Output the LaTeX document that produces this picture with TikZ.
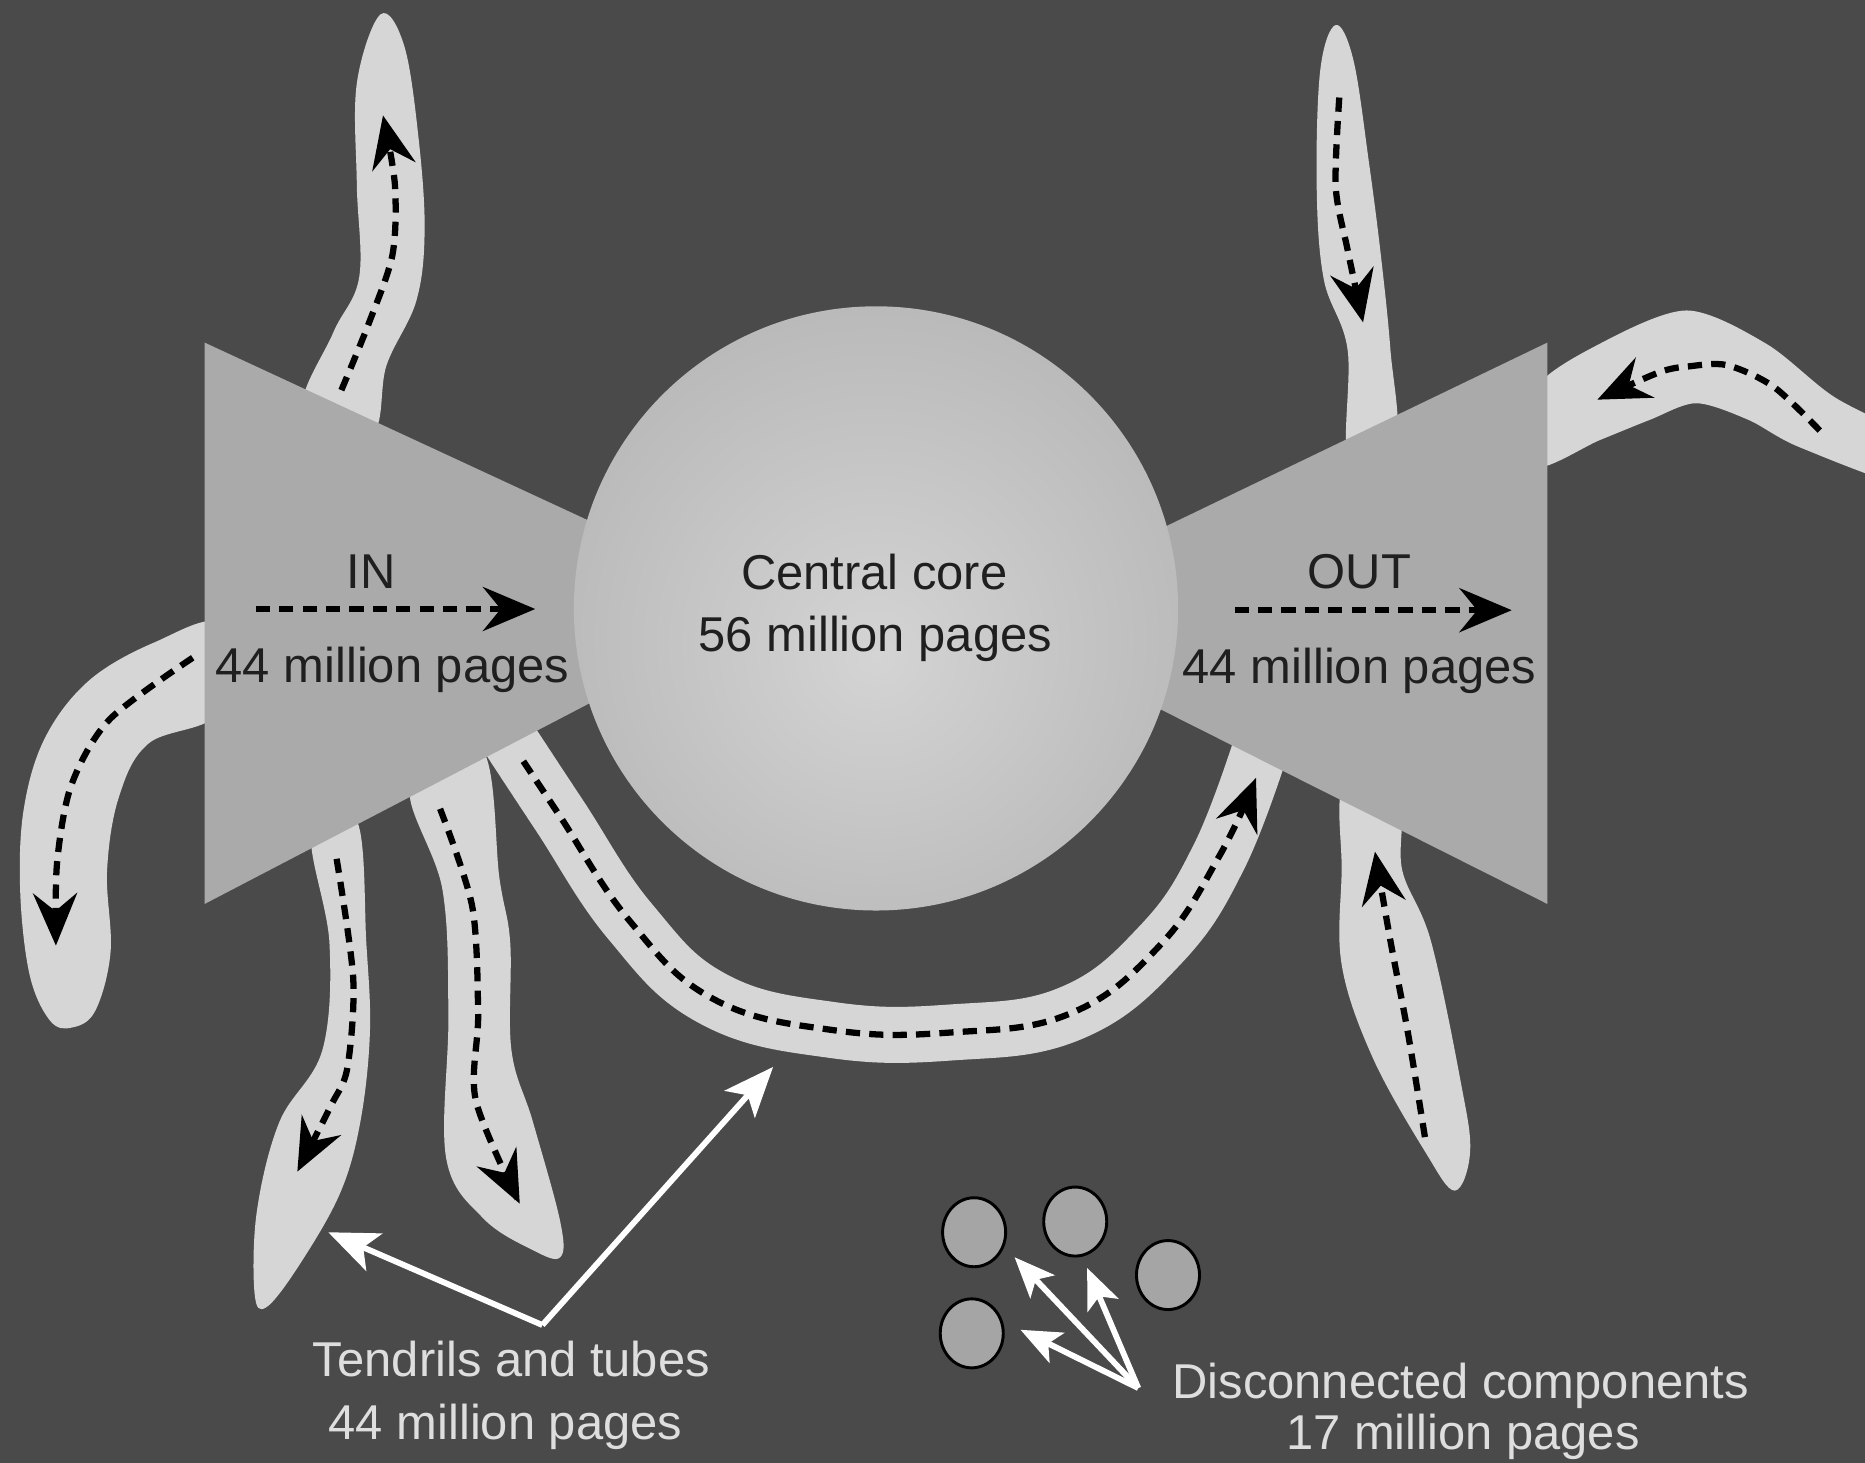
\documentclass[tikz,border=0pt]{standalone}
\usepackage{fontspec}
\setmainfont{Liberation Sans}
\usetikzlibrary{arrows.meta,shapes.geometric}
\definecolor{bgdark}{RGB}{74,74,74}
\definecolor{tendrilgray}{RGB}{214,214,214}
\definecolor{conegray}{RGB}{170,170,170}
\definecolor{corein}{RGB}{212,212,212}
\definecolor{coreout}{RGB}{160,160,160}
\definecolor{notegray}{RGB}{222,222,222}
\definecolor{dotgray}{RGB}{165,165,165}
\pgfdeclareradialshading{coreshade}{\pgfpoint{0bp}{-4bp}}{color(0bp)=(corein); color(54bp)=(coreout); color(60bp)=(coreout)}

\begin{document}
\begin{tikzpicture}[
  x=0.1mm, y=-0.1mm,
  every node/.style={font=\fontsize{11.7}{15}\selectfont, inner sep=0pt},
  tendril/.style={fill=tendrilgray},
  cone/.style={fill=conegray},
  flow/.style={black, line width=1.5pt, dash pattern=on 3.4pt off 2.2pt,
    -{Stealth[length=4.4mm,width=3.7mm,inset=1.5mm]}},
  pointer/.style={white, line width=1.4pt, -{Stealth[length=4.2mm,width=3.4mm,inset=1mm]}},
  smallpointer/.style={pointer, -{Stealth[length=3.4mm,width=2.8mm,inset=0.8mm]}},
  lbl/.style={text=black!88, anchor=base},
  note/.style={text=notegray, anchor=base},
  blob/.style={ellipse, draw=black, line width=0.7pt, fill=dotgray,
    minimum width=5.3mm, minimum height=5.8mm}
]
  \useasboundingbox (0,0) rectangle (1568,1230);
  \fill[bgdark] (0,0) rectangle (1568,1230);

  % tendrils and the tube
  \fill[tendril] plot[smooth cycle, tension=0.6] coordinates {(320,12) (340,39) (352,117) (357,194) (350,253) (325,307) (312,365) (255,345) (280,280) (302,233) (300,155) (300,70)};
  \fill[tendril] plot[smooth cycle, tension=0.6] coordinates {(185,525) (130,540) (75,572) (38,620) (20,680) (17,750) (25,820) (42,858) (60,864) (80,850) (93,800) (90,732) (100,670) (125,625) (185,598)};
  \fill[tendril] plot[smooth cycle, tension=0.6] coordinates {(262,700) (277,793) (271,883) (235,943) (216,1018) (214,1087) (224,1099) (252,1063) (286,1003) (303,943) (311,868) (308,793) (300,690)};
  \fill[tendril] plot[smooth cycle, tension=0.6] coordinates {(345,660) (372,748) (377,853) (375,973) (406,1024) (448,1051) (471,1057) (471,1027) (448,943) (430,883) (429,793) (420,739) (405,630)};
  \fill[tendril] plot[smooth cycle, tension=0.6] coordinates {(1123,21) (1138,51) (1151,137) (1161,215) (1169,294) (1173,372) (1134,388) (1133,294) (1113,235) (1107,157) (1110,59)};
  \fill[tendril] plot[smooth cycle, tension=0.5] coordinates {(1290,328) (1345,289) (1418,261) (1485,289) (1541,333) (1610,372) (1610,410) (1513,376) (1470,353) (1426,339) (1387,353) (1345,370) (1290,392)};
  \fill[tendril] plot[smooth cycle, tension=0.6] coordinates {(1130,660) (1128,732) (1128,811) (1154,889) (1198,968) (1223,1001) (1236,968) (1228,909) (1203,791) (1179,732) (1175,675)};
  \draw[tendrilgray, line width=13.4pt] plot[smooth, tension=0.7] coordinates {(422,612) (470,685) (530,775) (600,840) (700,866) (800,868) (900,852) (975,795) (1025,720) (1062,622)};

  % IN, OUT and the core
  \fill[cone] (172,288) -- (500,440) -- (500,589) -- (172,760) -- cycle;
  \fill[cone] (1301,288) -- (975,445) -- (975,596) -- (1301,760) -- cycle;
  \node[circle, minimum size=50.8mm, shading=coreshade] (core) at (736.5,511.5) {};

  % flows
  \draw[flow] (215,512) -- (450,512);
  \draw[flow] (1038,513) -- (1271,513);
  \draw[flow] plot[smooth] coordinates {(287,328) (310,272) (330,214) (332,155) (322,97)};
  \draw[flow] plot[smooth] coordinates {(162,553) (92,605) (60,660) (48,725) (47,795)};
  \draw[flow] plot[smooth] coordinates {(283,722) (297,823) (292,898) (278,930) (250,985)};
  \draw[flow] plot[smooth] coordinates {(370,680) (397,762) (402,853) (400,925) (437,1012)};
  \draw[flow] plot[smooth, tension=0.7] coordinates {(440,640) (470,685) (530,775) (600,840) (700,866) (800,868) (900,852) (975,795) (1025,720) (1056,654)};
  \draw[flow] plot[smooth] coordinates {(1126,82) (1123,157) (1133,210) (1146,271)};
  \draw[flow] plot[smooth] coordinates {(1530,362) (1491,325) (1452,307) (1420,308) (1395,313) (1343,336)};
  \draw[flow] plot[smooth] coordinates {(1198,956) (1184,870) (1169,791) (1156,716)};

  \node[lbl] (inlbl) at (312,495) {IN};
  \node[lbl] (inpages) at (330,574) {44 million pages};
  \node[lbl] (corelbl) at (735,496) {Central core};
  \node[lbl] (corepages) at (736,548) {56 million pages};
  \node[lbl] (outlbl) at (1143,495) {OUT};
  \node[lbl] (outpages) at (1143,575) {44 million pages};

  % disconnected components
  \node[blob] (d1) at (819,1036) {};
  \node[blob] (d2) at (904,1027) {};
  \node[blob] (d3) at (982,1072) {};
  \node[blob] (d4) at (817,1121) {};

  \node[note] (tubelbl) at (430,1157) {Tendrils and tubes};
  \node[note] (tubepages) at (425,1210) {44 million pages};
  \node[note] (disclbl) at (1228,1176) {Disconnected components};
  \node[note] (discpages) at (1230,1219) {17 million pages};

  \coordinate (tubefork) at (456,1114);
  \coordinate (tendtip) at (276,1036);
  \coordinate (tubetip) at (650,897);
  \draw[pointer] (tubefork) -- (tendtip);
  \draw[pointer] (tubefork) -- (tubetip);

  \coordinate (discfork) at (957,1167);
  \coordinate (p1) at (853,1057);
  \coordinate (p2) at (914,1066);
  \coordinate (p3) at (858,1118);
  \draw[smallpointer] (discfork) -- (p1);
  \draw[smallpointer] (discfork) -- (p2);
  \draw[smallpointer] (discfork) -- (p3);
\end{tikzpicture}
\end{document}
